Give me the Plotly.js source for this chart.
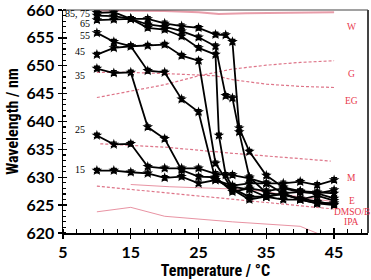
<!DOCTYPE html>
<html>
<head>
<meta charset="utf-8">
<script src="https://cdn.plot.ly/plotly-3.0.1.min.js"></script>
<style>html,body{margin:0;padding:0;background:#fff;}#chart{width:371px;height:280px;}</style>
</head>
<body>
<div id="chart"></div>
<script>
// ---- data ----
const xStd = [10,12.5,15,17.5,20,22.5,25,27.5,30,32.5,35,37.5,40,42.5,45];

const x85 = [10,12.5,15,17.5,20,22.5,25,27.5,29,30,31,32.5,35,37.5,40,42.5,45];
const y85 = [659.5,659.6,658.4,658.4,657.6,657.1,656.8,655.6,655.5,654.3,638.8,634.6,630.3,628.2,627.5,627.3,627.1];

const x75 = [10,12.5,15,17.5,20,22.5,25,27.5,29,30,31,32.5,35,37.5,40,42.5,45];
const y75 = [659.0,658.9,658.4,657.4,657.0,656.2,655.1,653.5,644.6,644.2,638.1,630.0,627.2,626.8,626.2,625.6,625.1];

const x65 = [10,12.5,15,17.5,20,22.5,25,27.5,28,29,30,32.5,35,37.5,40,42.5,45];
const y65 = [658.2,658.3,658.4,656.8,656.5,655.3,653.2,652.0,637.5,630.4,628.3,627.8,626.5,627.0,626.0,625.3,625.4];

const y55 = [655.9,654.3,653.5,653.6,653.8,651.8,650.9,632.5,627.8,626.0,626.5,627.1,627.4,627.1,626.2];
const y45 = [652.0,653.2,653.5,649.1,648.8,644.0,641.7,629.5,628.5,628.9,628.9,627.1,626.0,626.7,625.8];
const y35 = [649.5,648.7,648.8,639.0,636.9,631.3,630.1,630.0,627.4,628.0,627.5,628.0,627.4,627.1,627.7];
const y25 = [637.5,635.9,636.0,631.9,631.6,631.6,631.6,630.6,630.4,629.8,628.9,628.9,629.2,628.6,629.5];
const y15 = [631.2,631.2,630.9,630.7,629.9,630.1,628.9,629.5,628.0,626.5,626.5,626.0,626.0,625.3,625.0];

const seriesLabels = ["85, 75","65","55","45","35","25","15"];
const seriesLabelY = [659.3,657.6,655.4,652.6,648.3,638.5,631.4];
const seriesLabelX = [9.3,9.3,9.3,8.5,8.5,8.5,8.5];

// solvent reference lines
const xW = [10,20,25,28,32,38,45];
const yW = [659.9,659.8,659.6,659.3,659.4,659.5,659.6];
const xG = [10,15,20,25,30,35,40,45];
const yG = [644.3,645.4,646.6,648.2,649.4,650.1,650.6,650.9];
const xEG = [10,15,20,25,27.5,30,35,40,45];
const yEG = [648.8,648.8,648.6,648.4,648.2,647.5,646.7,646.3,646.1];
const xM = [10.5,20,30,40,44.5];
const yM = [636.0,635.4,634.3,633.4,632.9];
const xE = [10,20,32.5,45];
const yE = [628.4,627.2,625.8,624.3];
const xDB = [15,20.7,32.5,45];
const yDB = [628.7,628.3,627.8,625.6];
const xIPA = [10,15,20,30,40,43.2];
const yIPA = [623.8,624.6,623.0,622.0,621.2,619.6];

const solventLabels = ["W","G","EG","M","E","DMSO/B","IPA"];
const solventLabelY = [657.0,648.5,643.6,629.9,625.8,623.8,622.0];

// ---- traces ----
const pinkDash = {color:'rgba(214,82,108,0.8)', width:1.2, dash:'3px,2px'};
const pinkSolid = {color:'rgba(226,120,140,0.8)', width:1};
const traces = [];
function ref(x,y,line){traces.push({x:x,y:y,mode:'lines',line:line,hoverinfo:'skip',showlegend:false});}
ref(xW,yW,{color:'rgba(228,140,155,0.85)',width:2});
ref(xG,yG,pinkDash);
ref(xEG,yEG,pinkDash);
ref(xM,yM,pinkDash);
ref(xE,yE,pinkDash);
ref(xDB,yDB,pinkSolid);
ref(xIPA,yIPA,pinkSolid);

function ser(x,y){
  traces.push({x:x,y:y,mode:'lines+markers',
    line:{color:'black',width:1.8},
    marker:{symbol:'star',size:8,color:'black'},
    error_y:{type:'constant',value:0.4,width:3,thickness:1.4,color:'black'},
    showlegend:false});
}
ser(x85,y85); ser(x75,y75); ser(x65,y65);
ser(xStd,y55); ser(xStd,y45); ser(xStd,y35); ser(xStd,y25); ser(xStd,y15);

// ---- annotations ----
const ann = [];
seriesLabels.forEach((t,i)=>ann.push({x:seriesLabelX[i],y:seriesLabelY[i],xref:'x',yref:'y',text:t,showarrow:false,
  xanchor:'right',yanchor:'middle',font:{family:'Liberation Serif, serif',size:10,color:'black'}}));
solventLabels.forEach((t,i)=>ann.push({x:47.6,y:solventLabelY[i],xref:'x',yref:'y',text:t,showarrow:false,
  xanchor:'center',yanchor:'middle',font:{family:'Liberation Serif, serif',size:9.5,color:'rgb(232,56,78)'}}));

const tickFont = {family:'Lato, sans-serif',size:16,color:'black',weight:'bold'};
const titleFont = {family:'Liberation Sans Narrow, Roboto Condensed, Lato, sans-serif',size:16,color:'black',weight:'bold'};
const layout = {
  width:371,height:280,
  margin:{l:63,r:3,t:10,b:47},
  paper_bgcolor:'white',plot_bgcolor:'white',
  showlegend:false,
  xaxis:{range:[5,50],tick0:5,dtick:10,ticks:'outside',ticklen:4,tickwidth:1.3,tickcolor:'black',
    showline:true,linecolor:'black',linewidth:1.5,showgrid:false,zeroline:false,
    tickfont:tickFont,ticklabeloverflow:'allow',
    minor:{dtick:2,tick0:5,ticks:'inside',ticklen:4,tickwidth:1.2,tickcolor:'black',showgrid:false},
    title:{text:'Temperature / °C',font:titleFont,standoff:2}},
  xaxis2:{range:[5,50],tick0:5,dtick:10,ticks:'inside',ticklen:5,tickwidth:1.3,tickcolor:'black',
    overlaying:'x',side:'bottom',showticklabels:false,showgrid:false,zeroline:false,showline:false},
  yaxis:{range:[620,660],tick0:620,dtick:5,ticks:'outside',ticklen:4,tickwidth:1.3,tickcolor:'black',
    showline:true,linecolor:'black',linewidth:1.5,showgrid:false,zeroline:false,
    tickfont:tickFont,ticklabeloverflow:'allow',
    minor:{dtick:1,ticks:'inside',ticklen:3,tickwidth:1.2,tickcolor:'black',showgrid:false},
    title:{text:'Wavelength / nm',font:titleFont,standoff:4}},
  yaxis2:{range:[620,660],tick0:620,dtick:5,ticks:'inside',ticklen:4,tickwidth:1.3,tickcolor:'black',
    overlaying:'y',side:'left',showticklabels:false,showgrid:false,zeroline:false,showline:false},
  annotations:ann,
  shapes:[
    {type:'line',xref:'paper',yref:'paper',x0:0,x1:1,y0:1,y1:1,line:{color:'#444',width:1.2}},
    {type:'line',xref:'paper',yref:'paper',x0:1,x1:1,y0:0,y1:1,line:{color:'#444',width:2}}
  ]
};
traces.push({x:[5],y:[620],xaxis:'x2',yaxis:'y2',mode:'markers',marker:{opacity:0},hoverinfo:'skip',showlegend:false});
Plotly.newPlot('chart',traces,layout,{staticPlot:true});
</script>
</body>
</html>
